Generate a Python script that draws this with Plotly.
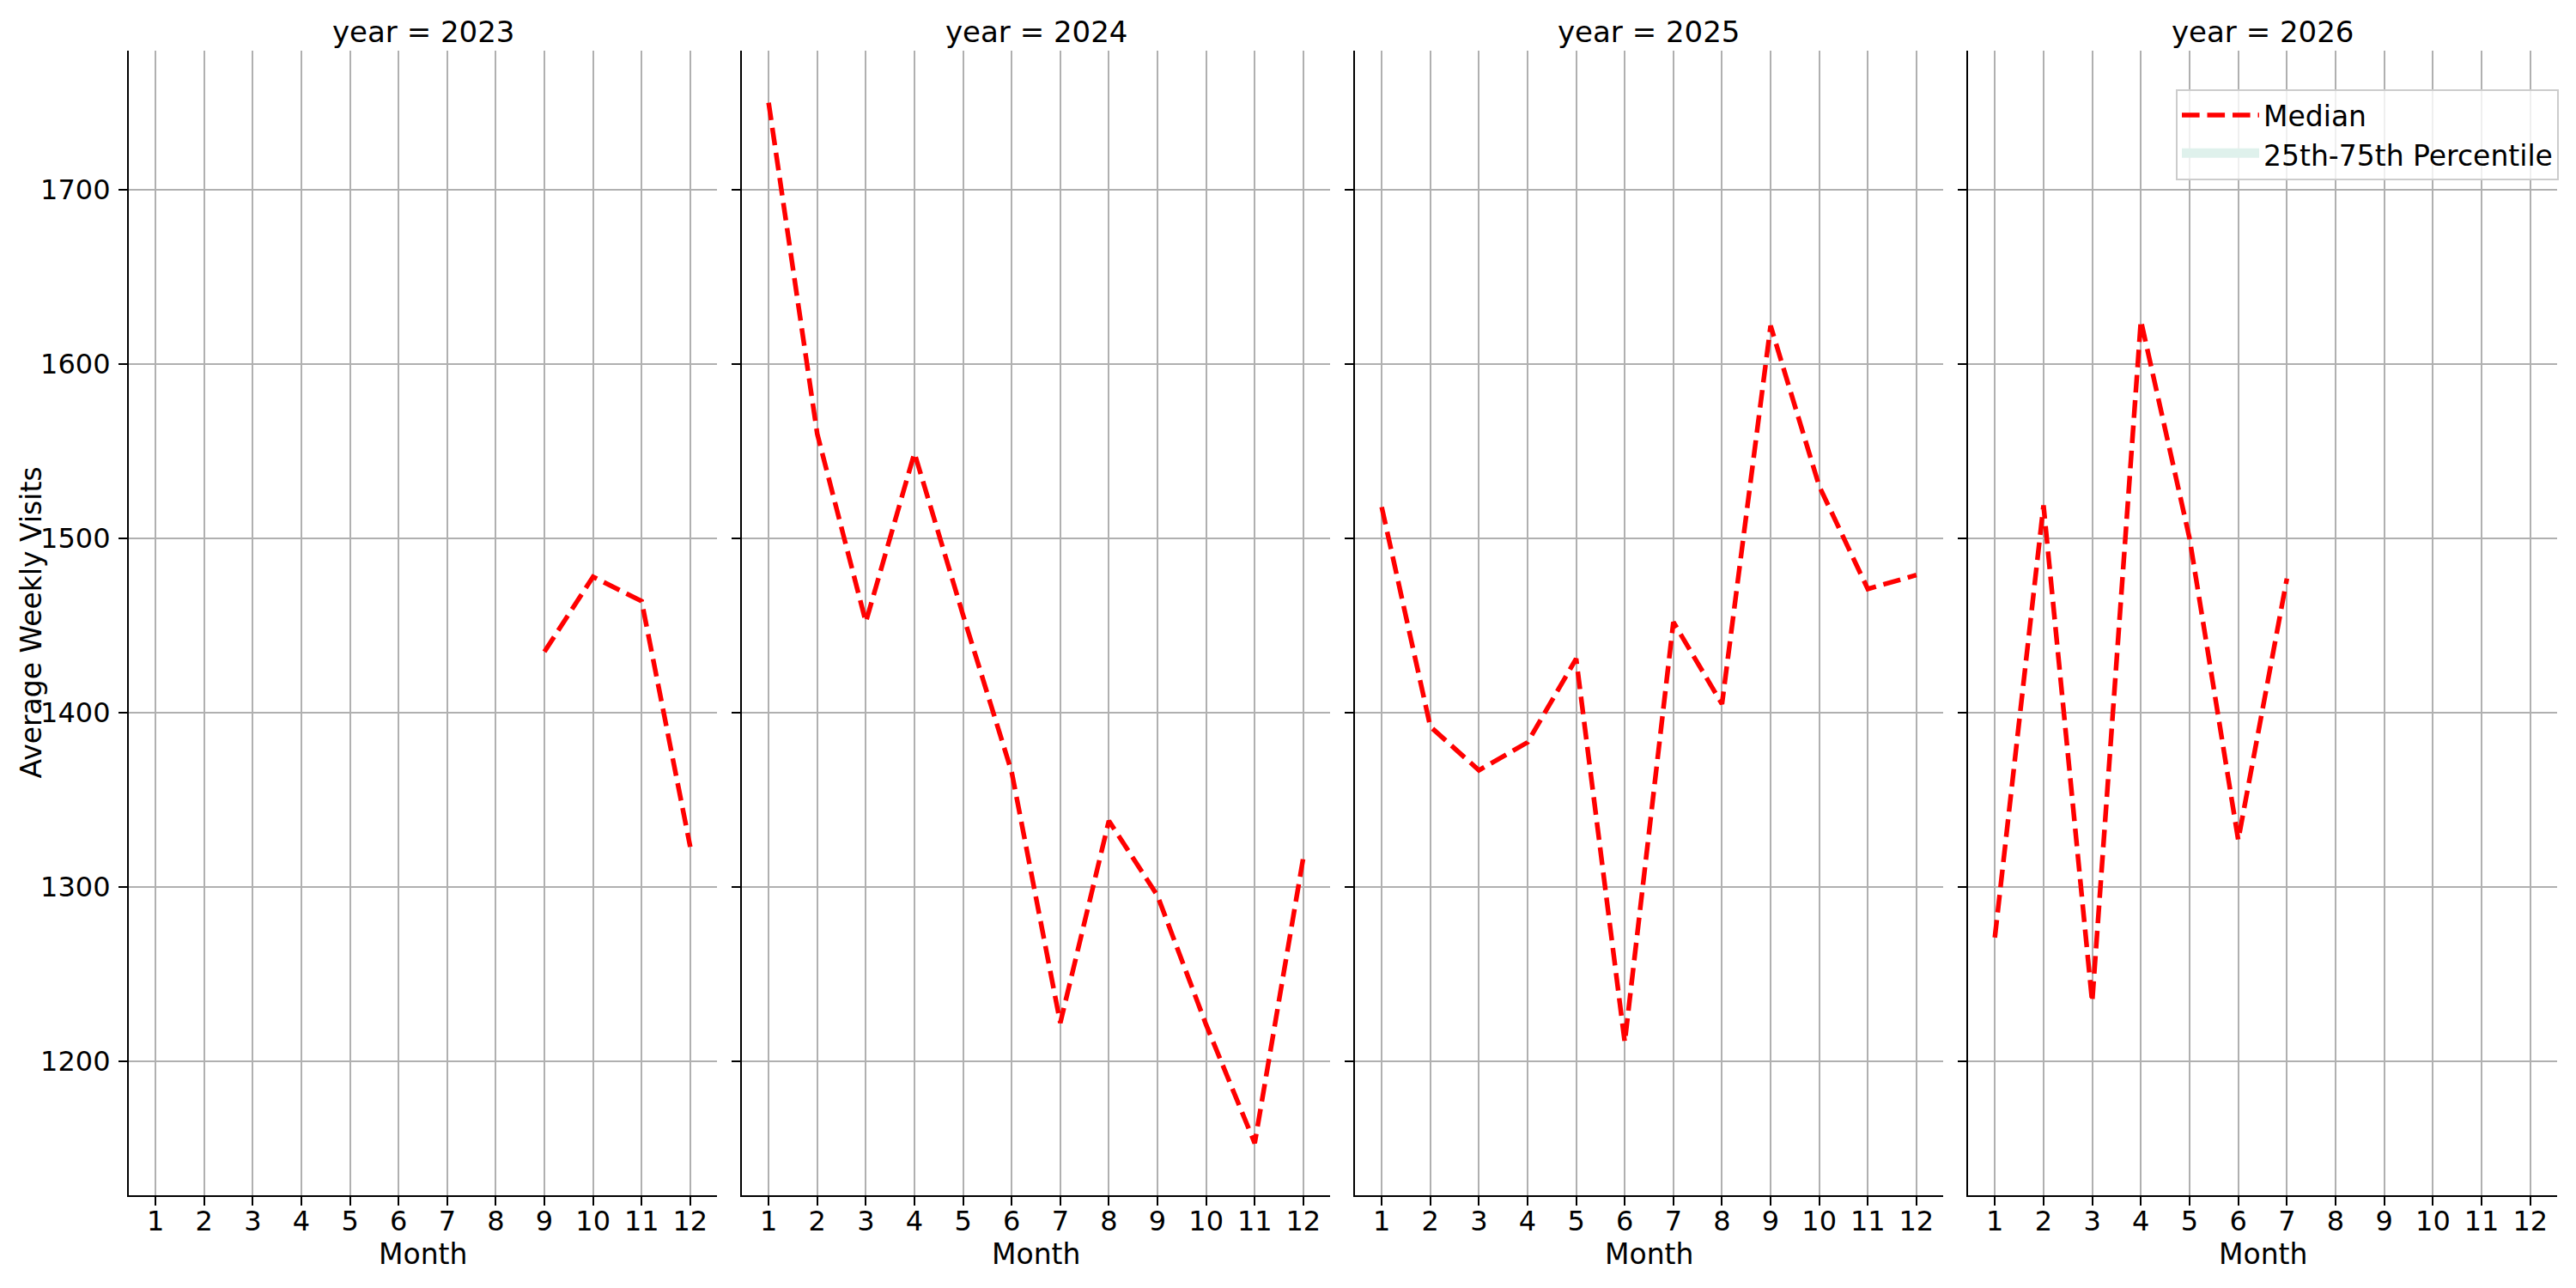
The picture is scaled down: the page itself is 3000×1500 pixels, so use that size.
import plotly.graph_objects as go

years = [2023, 2024, 2025, 2026]
months_2023 = [9, 10, 11, 12]
median_2023 = [1435, 1478, 1464, 1323]
months_2024 = [1, 2, 3, 4, 5, 6, 7, 8, 9, 10, 11, 12]
median_2024 = [1750, 1560, 1452, 1549, 1456, 1366, 1222, 1338, 1295, 1221, 1153, 1317]
months_2025 = [1, 2, 3, 4, 5, 6, 7, 8, 9, 10, 11, 12]
median_2025 = [1518, 1392, 1367, 1383, 1431, 1211, 1452, 1405, 1622, 1530, 1471, 1479]
months_2026 = [1, 2, 3, 4, 5, 6, 7]
median_2026 = [1271, 1519, 1234, 1625, 1500, 1327, 1477]
# only one observation per month, so the 25th and 75th percentiles equal the median
q25 = {2023: median_2023, 2024: median_2024, 2025: median_2025, 2026: median_2026}
q75 = {2023: median_2023, 2024: median_2024, 2025: median_2025, 2026: median_2026}
month_ticks = [1, 2, 3, 4, 5, 6, 7, 8, 9, 10, 11, 12]
visit_ticks = [1200, 1300, 1400, 1500, 1600, 1700]

months = {2023: months_2023, 2024: months_2024, 2025: months_2025, 2026: months_2026}
medians = {2023: median_2023, 2024: median_2024, 2025: median_2025, 2026: median_2026}

# the page body adds an 8px margin; size the figure to fit the 3000x1500 window
OFF = 8
W, H = 3000 - OFF, 1500 - OFF
FONT = "DejaVu Sans"
TICK_SIZE = 32


def px_x(p):
    return (p - OFF) / W


def px_y(p):
    return 1 - (p - OFF) / H


panels_px = [(150, 835), (864, 1549), (1578, 2263), (2292, 2978)]
top_px, bottom_px = 59, 1392
ydom = [px_y(bottom_px), px_y(top_px)]

allv = median_2023 + median_2024 + median_2025 + median_2026
vmin, vmax = min(allv), max(allv)
pad = (vmax - vmin) * 0.05
yrange = [vmin - pad, vmax + pad]

fig = go.Figure()
band_color = "rgba(102,194,165,0.2)"
band_legend_color = "#dff1ec"
for i, yr in enumerate(years):
    ax = "" if i == 0 else str(i + 1)
    fig.add_trace(go.Scatter(
        x=months[yr], y=q25[yr], mode="lines", line=dict(width=0, color=band_color),
        showlegend=False, xaxis="x" + ax, yaxis="y" + ax, hoverinfo="skip"))
    fig.add_trace(go.Scatter(
        x=months[yr], y=q75[yr], mode="lines", fill="tonexty", fillcolor=band_color,
        line=dict(width=0, color=band_color), name="25th-75th Percentile",
        showlegend=False, xaxis="x" + ax, yaxis="y" + ax))
    fig.add_trace(go.Scatter(
        x=months[yr], y=medians[yr], mode="lines",
        line=dict(color="red", width=5.5, dash="20.6px,8.9px"),
        name="Median", showlegend=(i == 0), legendrank=1,
        xaxis="x" + ax, yaxis="y" + ax))
# legend entry for the percentile band
fig.add_trace(go.Scatter(
    x=[None], y=[None], mode="lines", fill="tozeroy", fillcolor=band_legend_color,
    line=dict(color=band_legend_color, width=10),
    name="25th-75th Percentile", showlegend=True, legendrank=2, hoverinfo="skip"))

layout = dict(
    width=W, height=H, margin=dict(l=0, r=0, t=0, b=0),
    paper_bgcolor="white", plot_bgcolor="white",
    font=dict(family=FONT, size=TICK_SIZE, color="black"),
    showlegend=True,
    legend=dict(x=px_x(2980), y=px_y(104), xanchor="right", yanchor="top",
                traceorder="normal",
                bgcolor="rgba(255,255,255,0.8)", bordercolor="#cccccc", borderwidth=2,
                font=dict(family=FONT, size=33, color="black"),
                tracegroupgap=8, itemwidth=90),
)
annotations = []
for i, yr in enumerate(years):
    ax = "" if i == 0 else str(i + 1)
    x0, x1 = panels_px[i]
    layout["xaxis" + ax] = dict(
        domain=[px_x(x0), px_x(x1)], range=[0.45, 12.55], anchor="y" + ax,
        tickmode="array", tickvals=month_ticks, ticktext=[str(m) for m in month_ticks],
        showgrid=True, gridcolor="#b0b0b0", gridwidth=2.2, zeroline=False,
        showline=True, linecolor="black", linewidth=2.2, mirror=False,
        ticks="outside", ticklen=10, tickwidth=2.2, tickcolor="black",
        tickfont=dict(family=FONT, size=TICK_SIZE, color="black"), ticklabelstandoff=-10)
    layout["yaxis" + ax] = dict(
        domain=ydom, range=yrange, anchor="x" + ax,
        tickmode="array", tickvals=visit_ticks,
        showgrid=True, gridcolor="#b0b0b0", gridwidth=2.2, zeroline=False,
        showline=True, linecolor="black", linewidth=2.2, mirror=False,
        ticks="outside", ticklen=10, tickwidth=2.2, tickcolor="black",
        showticklabels=(i == 0),
        tickfont=dict(family=FONT, size=TICK_SIZE, color="black"), ticklabelstandoff=3)
    cx = px_x((x0 + x1) / 2)
    annotations.append(dict(text=f"year = {yr}", x=cx, y=px_y(37), xref="paper", yref="paper",
                            xanchor="center", yanchor="middle", showarrow=False,
                            font=dict(family=FONT, size=34, color="black")))
    annotations.append(dict(text="Month", x=cx, y=px_y(1460), xref="paper", yref="paper",
                            xanchor="center", yanchor="middle", showarrow=False,
                            font=dict(family=FONT, size=33, color="black")))
annotations.append(dict(text="Average Weekly Visits", x=px_x(36), y=(ydom[0] + ydom[1]) / 2,
                        xref="paper", yref="paper", xanchor="center", yanchor="middle",
                        textangle=-90, showarrow=False,
                        font=dict(family=FONT, size=33, color="black")))
layout["annotations"] = annotations
fig.update_layout(**layout)
fig.write_html("out.html")
